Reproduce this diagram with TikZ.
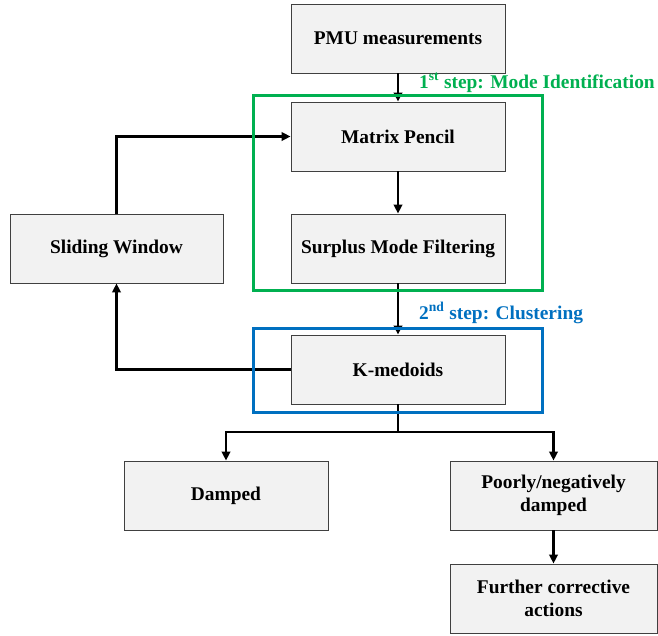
\documentclass[tikz,border=0pt]{standalone}
\usepackage{fontspec}
\setmainfont{Liberation Serif}
\usetikzlibrary{arrows.meta}
\definecolor{stepgreen}{HTML}{00B050}
\definecolor{stepblue}{HTML}{0070C0}
\definecolor{boxfill}{HTML}{F2F2F2}
\definecolor{boxline}{HTML}{404040}
\begin{document}
\begin{tikzpicture}[x=1pt,y=-1pt,
  blk/.style={draw=boxline, line width=0.9pt, fill=boxfill, rectangle, minimum height=69pt,
    align=center, font=\fontsize{19.4}{23}\selectfont\bfseries, inner sep=2pt},
  conn/.style={line width=2.7pt, -{Triangle[length=9pt,width=8.5pt]}},
  plainconn/.style={line width=2.7pt},
  frame/.style={line width=3pt},
  steplabel/.style={anchor=west, font=\fontsize{19.4}{23}\selectfont\bfseries, inner sep=0pt}
]
\useasboundingbox (0,0) rectangle (658,635);
\node[blk, minimum width=214pt] (pmu) at (398,38.5) {PMU measurements};
\node[blk, minimum width=214pt] (mp) at (398,136.5) {Matrix Pencil};
\node[blk, minimum width=214pt] (smf) at (398,248.5) {Surplus Mode Filtering};
\node[blk, minimum width=213pt] (sw) at (116.5,248.5) {Sliding Window};
\node[blk, minimum width=214pt] (km) at (398,369.5) {K-medoids};
\node[blk, minimum width=204pt] (dmp) at (226,495.5) {Damped};
\node[blk, minimum width=207pt] (poor) at (553.5,495.5) {Poorly/negatively\\damped};
\node[blk, minimum width=207pt] (fca) at (553.5,598.5) {Further corrective\\actions};

\coordinate (split) at (398,432);
\draw[conn] (pmu.south) -- (mp.north);
\draw[conn] (mp.south) -- (smf.north);
\draw[conn] (smf.south) -- (km.north);
\draw[conn] (sw.north) |- (mp.west);
\draw[conn] (km.west) -| (sw.south);
\draw[plainconn] (km.south) -- (split);
\draw[conn] (split) -| (dmp.north);
\draw[conn] (split) -| (poor.north);
\draw[conn] (poor.south) -- (fca.north);

\draw[frame, stepgreen] (253,95) rectangle (542,290);
\draw[frame, stepblue] (253,328) rectangle (542,412);

\node[steplabel, text=stepgreen] (l1) at (419,83) {1\textsuperscript{st} step: Mode Identification};
\node[steplabel, text=stepblue] (l2) at (419,313) {2\textsuperscript{nd} step: Clustering};
\end{tikzpicture}
\end{document}
